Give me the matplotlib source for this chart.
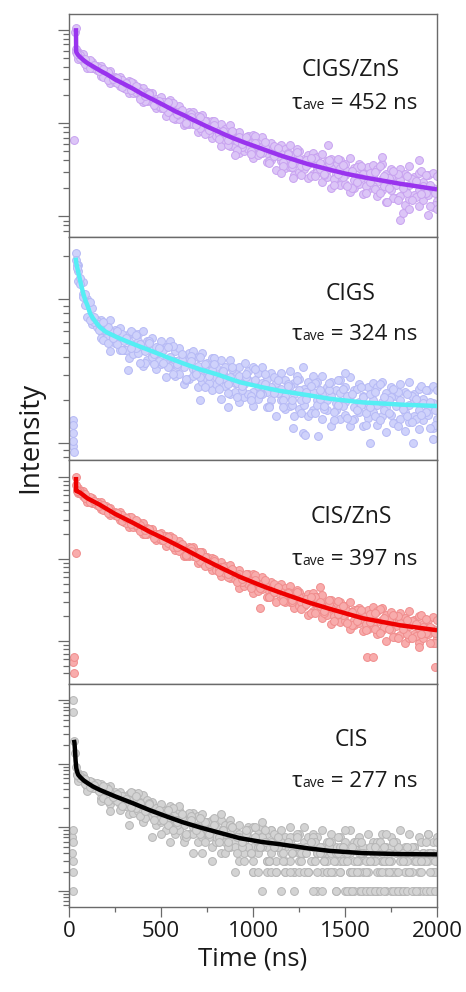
import numpy as np
import matplotlib.pyplot as plt
from matplotlib.ticker import LogLocator, NullFormatter, MultipleLocator

plt.rcParams['font.family'] = ['Open Sans', 'DejaVu Sans']

# time bins of the decay traces (ns)
t_grid = np.arange(50, 2001, 25)
t_half = np.arange(62.5, 2000, 25)
t_tail = np.arange(1000, 2001, 25)
t_tail2 = np.arange(1512.5, 2000, 25)

# ---------------- CIGS/ZnS (log10 counts) ----------------
cigszns_a = [2.76, 2.74, 2.67, 2.66, 2.61, 2.61, 2.56, 2.56, 2.50, 2.50, 2.44, 2.45, 2.43,
             2.39, 2.38, 2.33, 2.32, 2.26, 2.28, 2.23, 2.25, 2.17, 2.18, 2.11, 2.12, 2.12,
             2.08, 2.09, 2.02, 2.02, 1.96, 1.99, 1.94, 1.98, 1.89, 1.91, 1.83, 1.86, 1.87,
             1.82, 1.85, 1.77, 1.79, 1.72, 1.77, 1.72, 1.77, 1.67, 1.70, 1.62, 1.66, 1.68,
             1.64, 1.67, 1.59, 1.62, 1.55, 1.61, 1.56, 1.63, 1.52, 1.56, 1.47, 1.53, 1.55,
             1.51, 1.56, 1.46, 1.51, 1.43, 1.51, 1.45, 1.54, 1.42, 1.47, 1.37, 1.44, 1.47, 1.43]
cigszns_b = [2.73, 2.68, 2.66, 2.62, 2.60, 2.55, 2.53, 2.51, 2.46, 2.46, 2.41, 2.41, 2.36,
             2.36, 2.30, 2.30, 2.24, 2.23, 2.23, 2.16, 2.17, 2.12, 2.12, 2.07, 2.09, 2.03,
             2.03, 1.96, 1.97, 1.96, 1.90, 1.91, 1.86, 1.87, 1.81, 1.85, 1.78, 1.80, 1.72,
             1.74, 1.75, 1.68, 1.70, 1.66, 1.67, 1.61, 1.66, 1.59, 1.62, 1.53, 1.56, 1.58,
             1.51, 1.54, 1.50, 1.52, 1.45, 1.52, 1.44, 1.48, 1.39, 1.43, 1.45, 1.38, 1.42,
             1.37, 1.40, 1.34, 1.42, 1.34, 1.39, 1.28, 1.34, 1.36, 1.28, 1.33, 1.29, 1.31, 1.25]
cigszns_c = [2.69, 2.67, 2.59, 2.59, 2.57, 2.51, 2.50, 2.43, 2.44, 2.40, 2.38, 2.32, 2.32,
             2.31, 2.23, 2.24, 2.23, 2.16, 2.16, 2.08, 2.12, 2.05, 2.05, 1.98, 1.99, 1.99,
             1.91, 1.92, 1.93, 1.84, 1.86, 1.76, 1.82, 1.76, 1.75, 1.68, 1.70, 1.72, 1.63,
             1.66, 1.68, 1.58, 1.61, 1.50, 1.59, 1.52, 1.53, 1.44, 1.48, 1.51, 1.41, 1.45,
             1.48, 1.37, 1.42, 1.31, 1.41, 1.34, 1.35, 1.26, 1.31, 1.35, 1.24, 1.29, 1.33,
             1.22, 1.28, 1.15, 1.28, 1.20, 1.22, 1.12, 1.19, 1.23, 1.11, 1.18, 1.23, 1.10, 1.17]
cigszns_d = [2.73, 2.64, 2.68, 2.59, 2.59, 2.50, 2.55, 2.48, 2.43, 2.46, 2.37, 2.44, 2.34,
             2.34, 2.24, 2.32, 2.24, 2.18, 2.23, 2.12, 2.22, 2.09, 2.12, 1.99, 2.10, 2.01,
             1.95, 2.02, 1.89, 2.02, 1.88, 1.91, 1.77, 1.91, 1.81, 1.75, 1.84, 1.70, 1.86,
             1.70, 1.74, 1.59, 1.76, 1.65, 1.58, 1.68, 1.53, 1.72, 1.54, 1.60, 1.43, 1.63,
             1.51, 1.44, 1.57, 1.40, 1.62, 1.42, 1.49, 1.30, 1.53, 1.41, 1.33, 1.47, 1.29,
             1.54, 1.33, 1.41, 1.20, 1.46, 1.33, 1.25, 1.40, 1.21, 1.49, 1.25, 1.34, 1.12]
cigszns_e = [2.70, 2.69, 2.59, 2.62, 2.56, 2.58, 2.46, 2.47, 2.49, 2.39, 2.43, 2.36, 2.40,
             2.26, 2.29, 2.31, 2.19, 2.24, 2.16, 2.23, 2.06, 2.10, 2.14, 2.00, 2.07, 1.98,
             2.07, 1.88, 1.93, 1.98, 1.83, 1.92, 1.82, 1.92, 1.71, 1.78, 1.85, 1.67, 1.79,
             1.68, 1.80, 1.57, 1.65, 1.73, 1.54, 1.67, 1.56, 1.69, 1.44, 1.54, 1.63, 1.43,
             1.57, 1.46, 1.61, 1.34, 1.45, 1.55, 1.33, 1.49, 1.37, 1.54, 1.25, 1.37, 1.48,
             1.25, 1.43, 1.30, 1.49, 1.18, 1.31, 1.43, 1.18, 1.38, 1.24, 1.44, 1.11, 1.25]
cigszns_extra_t = [30, 34, 36, 38, 40, 44, 900, 1150, 1217, 1408, 1700, 1730, 1800, 1815, 1850, 1900, 1950, 2000]
cigszns_extra_v = [1.82, 2.98, 3.02, 2.80, 2.76, 2.74, 1.66, 1.47, 1.41, 1.77, 1.64, 1.16, 0.96, 1.04, 1.08, 1.60, 1.02, 1.08]
cigszns_fit_t = [38, 39, 42, 50, 60, 80, 100, 130, 168, 210, 250, 300, 348, 400, 440, 490, 533, 580, 620,
                 670, 712, 760, 800, 850, 891, 950, 1000, 1070, 1147, 1220, 1300, 1360, 1418, 1500,
                 1598, 1700, 1800, 1900, 2000]
cigszns_fit_v = [3.02, 2.77, 2.755, 2.73, 2.71, 2.675, 2.645, 2.61, 2.565, 2.52, 2.47, 2.42, 2.37, 2.31,
                 2.27, 2.22, 2.175, 2.125, 2.09, 2.04, 2.00, 1.955, 1.92, 1.875, 1.84, 1.795, 1.76,
                 1.71, 1.655, 1.61, 1.56, 1.53, 1.50, 1.46, 1.42, 1.385, 1.35, 1.32, 1.29]

# ---------------- CIGS ----------------
cigs_a = [2.24, 2.12, 2.00, 1.94, 1.86, 1.86, 1.82, 1.86, 1.79, 1.80, 1.74, 1.76, 1.77,
          1.76, 1.78, 1.71, 1.73, 1.67, 1.71, 1.67, 1.71, 1.64, 1.66, 1.59, 1.63, 1.64,
          1.60, 1.63, 1.56, 1.59, 1.53, 1.58, 1.53, 1.58, 1.50, 1.53, 1.46, 1.50, 1.53,
          1.49, 1.53, 1.45, 1.49, 1.42, 1.49, 1.44, 1.50, 1.42, 1.45, 1.38, 1.43, 1.47,
          1.43, 1.47, 1.39, 1.43, 1.37, 1.44, 1.39, 1.46, 1.37, 1.41, 1.33, 1.39, 1.42,
          1.39, 1.43, 1.35, 1.39, 1.33, 1.41, 1.36, 1.43, 1.34, 1.38, 1.31, 1.37, 1.40, 1.37]
cigs_b = [2.20, 2.04, 1.98, 1.87, 1.85, 1.78, 1.78, 1.78, 1.73, 1.74, 1.71, 1.71, 1.67,
          1.71, 1.65, 1.68, 1.61, 1.63, 1.64, 1.58, 1.60, 1.57, 1.58, 1.53, 1.58, 1.52,
          1.54, 1.47, 1.50, 1.51, 1.46, 1.48, 1.45, 1.46, 1.42, 1.47, 1.41, 1.44, 1.36,
          1.40, 1.42, 1.36, 1.39, 1.36, 1.38, 1.33, 1.40, 1.34, 1.37, 1.30, 1.34, 1.36,
          1.30, 1.34, 1.30, 1.33, 1.28, 1.35, 1.29, 1.33, 1.25, 1.29, 1.32, 1.25, 1.30,
          1.27, 1.29, 1.25, 1.32, 1.26, 1.30, 1.22, 1.27, 1.30, 1.23, 1.28, 1.25, 1.28, 1.23]
cigs_c = [2.13, 2.02, 1.88, 1.83, 1.81, 1.73, 1.73, 1.64, 1.70, 1.65, 1.65, 1.59, 1.62,
          1.63, 1.54, 1.58, 1.60, 1.52, 1.55, 1.46, 1.54, 1.47, 1.48, 1.41, 1.45, 1.47,
          1.39, 1.43, 1.45, 1.37, 1.41, 1.31, 1.40, 1.34, 1.36, 1.29, 1.32, 1.34, 1.26,
          1.31, 1.34, 1.25, 1.30, 1.19, 1.30, 1.24, 1.26, 1.19, 1.24, 1.27, 1.19, 1.23,
          1.27, 1.17, 1.23, 1.12, 1.23, 1.17, 1.20, 1.12, 1.17, 1.22, 1.12, 1.18, 1.22,
          1.13, 1.19, 1.08, 1.20, 1.14, 1.17, 1.09, 1.15, 1.19, 1.10, 1.16, 1.20, 1.11, 1.17]
cigs_d = [2.15, 1.96, 1.98, 1.84, 1.83, 1.72, 1.81, 1.74, 1.69, 1.76, 1.65, 1.78, 1.66,
          1.69, 1.56, 1.71, 1.62, 1.57, 1.65, 1.53, 1.68, 1.54, 1.58, 1.44, 1.61, 1.51,
          1.46, 1.55, 1.42, 1.59, 1.44, 1.49, 1.35, 1.52, 1.42, 1.37, 1.46, 1.33, 1.52,
          1.35, 1.41, 1.26, 1.46, 1.35, 1.30, 1.41, 1.27, 1.47, 1.30, 1.36, 1.21, 1.42,
          1.31, 1.24, 1.37, 1.22, 1.44, 1.26, 1.33, 1.16, 1.38, 1.27, 1.21, 1.34, 1.19,
          1.41, 1.23, 1.30, 1.14, 1.36, 1.25, 1.19, 1.33, 1.17, 1.40, 1.22, 1.29, 1.13]
cigs_e = [2.11, 2.04, 1.86, 1.88, 1.79, 1.84, 1.70, 1.73, 1.78, 1.65, 1.73, 1.66, 1.75,
          1.56, 1.64, 1.70, 1.55, 1.66, 1.56, 1.67, 1.48, 1.55, 1.62, 1.45, 1.57, 1.48,
          1.60, 1.39, 1.47, 1.55, 1.38, 1.50, 1.41, 1.53, 1.32, 1.40, 1.48, 1.30, 1.44,
          1.34, 1.48, 1.25, 1.35, 1.44, 1.25, 1.40, 1.30, 1.44, 1.21, 1.31, 1.40, 1.21,
          1.37, 1.26, 1.42, 1.16, 1.27, 1.38, 1.18, 1.34, 1.23, 1.39, 1.13, 1.25, 1.36,
          1.16, 1.32, 1.21, 1.38, 1.12, 1.24, 1.34, 1.15, 1.31, 1.20, 1.37, 1.11, 1.23]
cigs_extra_t = [21, 22, 22, 23, 24, 25, 37, 39, 42, 45, 320, 712, 864, 957, 1217, 1272, 1272, 1283,
                1353, 1500, 1636, 1870, 1980]
cigs_extra_v = [1.07, 1.16, 0.98, 1.13, 1.02, 0.94, 2.32, 2.27, 2.24, 2.22, 1.51, 1.30, 1.25, 1.56,
                1.11, 1.07, 1.53, 1.06, 1.05, 1.49, 1.00, 1.00, 1.03]
cigs_fit_t = [36, 40, 50, 60, 70, 80, 90, 100, 114, 130, 150, 168, 200, 261, 350, 440, 530, 620,
              710, 804, 929, 1050, 1147, 1300, 1418, 1598, 1800, 2000]
cigs_fit_v = [2.29, 2.25, 2.19, 2.135, 2.08, 2.03, 1.99, 1.96, 1.905, 1.87, 1.835, 1.807, 1.775,
              1.737, 1.69, 1.646, 1.60, 1.556, 1.515, 1.48, 1.425, 1.39, 1.365, 1.335, 1.31,
              1.285, 1.27, 1.26]

# ---------------- CIS/ZnS ----------------
ciszns_a = [2.86, 2.83, 2.76, 2.74, 2.70, 2.69, 2.64, 2.62, 2.57, 2.57, 2.51, 2.51, 2.49,
            2.45, 2.44, 2.38, 2.37, 2.31, 2.32, 2.28, 2.28, 2.22, 2.22, 2.15, 2.15, 2.14,
            2.09, 2.09, 2.02, 2.01, 1.95, 1.96, 1.91, 1.93, 1.85, 1.87, 1.79, 1.82, 1.81,
            1.77, 1.78, 1.71, 1.72, 1.65, 1.69, 1.64, 1.67, 1.59, 1.60, 1.53, 1.57, 1.58,
            1.54, 1.56, 1.48, 1.50, 1.43, 1.48, 1.42, 1.47, 1.38, 1.40, 1.32, 1.38, 1.41,
            1.36, 1.40, 1.31, 1.35, 1.27, 1.34, 1.28, 1.36, 1.25, 1.30, 1.20, 1.26, 1.29, 1.25]
ciszns_b = [2.83, 2.78, 2.75, 2.71, 2.69, 2.64, 2.62, 2.59, 2.54, 2.53, 2.48, 2.47, 2.43,
            2.43, 2.37, 2.36, 2.30, 2.29, 2.28, 2.23, 2.22, 2.17, 2.16, 2.11, 2.12, 2.06,
            2.05, 1.98, 1.98, 1.96, 1.90, 1.90, 1.86, 1.85, 1.79, 1.82, 1.75, 1.76, 1.68,
            1.69, 1.69, 1.63, 1.64, 1.60, 1.60, 1.55, 1.58, 1.52, 1.53, 1.45, 1.47, 1.48,
            1.41, 1.43, 1.39, 1.40, 1.34, 1.40, 1.33, 1.35, 1.26, 1.29, 1.30, 1.23, 1.27,
            1.23, 1.25, 1.19, 1.26, 1.18, 1.22, 1.13, 1.18, 1.20, 1.13, 1.17, 1.13, 1.15, 1.10]
ciszns_c = [2.80, 2.77, 2.70, 2.68, 2.66, 2.61, 2.60, 2.53, 2.53, 2.47, 2.45, 2.39, 2.39,
            2.38, 2.31, 2.31, 2.30, 2.23, 2.23, 2.16, 2.18, 2.11, 2.10, 2.03, 2.03, 2.03,
            1.95, 1.95, 1.94, 1.87, 1.87, 1.79, 1.83, 1.77, 1.75, 1.65, 1.67, 1.69, 1.59,
            1.61, 1.63, 1.54, 1.56, 1.47, 1.54, 1.47, 1.47, 1.40, 1.42, 1.42, 1.32, 1.36,
            1.38, 1.28, 1.32, 1.21, 1.30, 1.23, 1.24, 1.15, 1.19, 1.22, 1.12, 1.15, 1.19,
            1.08, 1.13, 1.00, 1.13, 1.05, 1.07, 0.98, 1.04, 1.08, 0.97, 1.03, 1.08, 0.97, 1.03]
ciszns_d = [2.83, 2.74, 2.76, 2.68, 2.67, 2.60, 2.62, 2.56, 2.52, 2.53, 2.44, 2.51, 2.41,
            2.41, 2.31, 2.37, 2.30, 2.25, 2.28, 2.19, 2.25, 2.14, 2.16, 2.04, 2.13, 2.04,
            1.98, 2.02, 1.91, 2.00, 1.88, 1.89, 1.78, 1.87, 1.79, 1.72, 1.79, 1.66, 1.80,
            1.65, 1.68, 1.54, 1.69, 1.59, 1.53, 1.60, 1.47, 1.62, 1.47, 1.51, 1.34, 1.53,
            1.42, 1.34, 1.45, 1.30, 1.49, 1.31, 1.36, 1.19, 1.38, 1.27, 1.20, 1.33, 1.15,
            1.39, 1.17, 1.25, 1.05, 1.30, 1.17, 1.09, 1.24, 1.06, 1.31, 1.10, 1.17, 0.98]
ciszns_e = [2.80, 2.79, 2.69, 2.71, 2.65, 2.66, 2.56, 2.56, 2.56, 2.46, 2.50, 2.43, 2.47,
            2.34, 2.35, 2.37, 2.26, 2.30, 2.23, 2.27, 2.14, 2.15, 2.18, 2.05, 2.10, 2.02,
            2.08, 1.91, 1.94, 1.97, 1.84, 1.90, 1.82, 1.88, 1.72, 1.75, 1.81, 1.64, 1.74,
            1.64, 1.74, 1.53, 1.60, 1.66, 1.49, 1.59, 1.50, 1.60, 1.39, 1.45, 1.53, 1.34,
            1.47, 1.36, 1.50, 1.24, 1.33, 1.42, 1.22, 1.35, 1.24, 1.38, 1.13, 1.23, 1.34,
            1.10, 1.28, 1.15, 1.32, 1.03, 1.15, 1.26, 1.03, 1.21, 1.09, 1.27, 0.97, 1.10]
ciszns_extra_t = [22, 27, 30, 38, 38, 39, 41, 45, 1038, 1364, 1620, 1652, 1900, 1990]
ciszns_extra_v = [0.74, 0.61, 0.80, 2.07, 3.00, 2.90, 2.84, 2.83, 1.40, 1.66, 0.80, 0.80, 0.92, 0.68]
ciszns_fit_t = [38, 39, 45, 60, 100, 168, 250, 348, 440, 533, 620, 712, 800, 929, 1050, 1147,
                1300, 1418, 1598, 1800, 2000]
ciszns_fit_v = [3.00, 2.83, 2.825, 2.81, 2.74, 2.66, 2.55, 2.44, 2.33, 2.23, 2.13, 2.02, 1.92,
                1.78, 1.67, 1.59, 1.47, 1.39, 1.275, 1.19, 1.13]

# ---------------- CIS (raw photon counts) ----------------
cis_a = [73, 66, 54, 51, 44, 49, 42, 45, 36, 36, 29, 34, 35,
         30, 32, 24, 25, 20, 23, 19, 22, 17, 19, 14, 16, 17,
         15, 16, 12, 13, 10, 13, 11, 13, 9, 11, 8, 10, 10,
         9, 10, 8, 9, 7, 9, 7, 10, 7, 8, 6, 7, 8,
         7, 9, 6, 8, 5, 7, 6, 9, 5, 7, 5, 8, 6,
         6, 8, 5, 7, 5, 9, 5, 8, 5, 7, 4, 8, 6, 7]
cis_b = [66, 55, 52, 45, 43, 35, 36, 35, 29, 30, 26, 27, 22,
         25, 20, 21, 16, 17, 17, 14, 14, 13, 13, 11, 13, 10,
         11, 8, 9, 10, 8, 8, 8, 8, 6, 8, 6, 7, 5,
         6, 7, 5, 6, 5, 6, 5, 6, 5, 5, 4, 5, 5,
         4, 5, 4, 4, 4, 5, 4, 4, 3, 4, 4, 3, 4,
         4, 4, 3, 5, 4, 4, 3, 4, 4, 3, 4, 4, 4, 3]
cis_c = [59, 53, 43, 42, 40, 29, 30, 23, 27, 23, 22, 16, 17,
         18, 13, 15, 15, 11, 12, 9, 11, 8, 9, 7, 8, 8,
         6, 7, 8, 5, 6, 4, 6, 5, 5, 3, 4, 5, 3,
         4, 5, 3, 4, 3, 4, 3, 3, 2, 3, 4, 2, 3,
         4, 2, 3, 2, 3, 2, 3, 2, 2, 3, 2, 3, 3,
         2, 3, 2, 3, 2, 3, 2, 2, 3, 2, 3, 3, 2, 3]
cis_d = [53, 61, 38, 44, 50, 26, 44, 18, 31, 19, 31, 11, 21,
         35, 12, 27, 7, 17, 8, 18, 6, 11, 22, 6, 17, 4,
         10, 4, 12, 3, 7, 16, 4, 11, 2, 7, 3, 9, 2,
         5, 12, 3, 9, 2, 5, 2, 7, 2, 4, 10, 2, 7,
         1, 4, 2, 6, 1, 3, 9, 2, 6, 1, 4, 2, 5,
         1, 3, 8, 2, 6, 1, 4, 2, 5, 1, 3, 8, 2, 6]
cis_f = [64, 49, 54, 42, 41, 29, 40, 31, 26, 31, 22, 36, 20,
         24, 14, 24, 17, 13, 18, 11, 20, 11, 14, 7, 15, 10,
         8, 12, 7, 14, 7, 9, 5, 10, 7, 5, 8, 4, 10,
         5, 6, 3, 8, 5, 4, 6, 4, 8, 4, 5, 3, 6,
         4, 3, 5, 3, 7, 3, 4, 2, 6, 4, 3, 5, 3,
         6, 3, 4, 2, 5, 4, 3, 5, 3, 6, 3, 4, 2]
cis_g = [59, 57, 43, 46, 38, 45, 26, 30, 34, 22, 28, 21, 31,
         15, 18, 23, 13, 19, 13, 19, 9, 12, 16, 8, 13, 9,
         14, 6, 8, 11, 6, 9, 6, 10, 4, 6, 9, 4, 7,
         5, 9, 3, 5, 7, 3, 6, 4, 7, 3, 4, 6, 3,
         5, 3, 6, 2, 4, 5, 3, 5, 3, 6, 2, 3, 5,
         2, 5, 3, 6, 2, 3, 5, 2, 4, 3, 6, 2, 3]
cis_tail = [2, 2, 1, 2, 2, 2, 1, 2, 2, 1, 2, 2, 2, 1, 2, 1, 2, 2, 1, 2,
            1, 1, 1, 2, 1, 1, 1, 1, 2, 1, 1, 1, 1, 1, 2, 1, 1, 1, 1, 1, 1]
cis_tail2 = [1, 1, 2, 1, 1, 1, 1, 1, 1, 2, 1, 1, 1, 1, 1, 1, 2, 1, 1, 1]
cis_extra_t = [18, 19, 20, 20, 20, 21, 22, 22, 24, 28, 32, 36, 42, 46]
cis_extra_v = [7, 4, 9, 3, 1, 6, 2, 1000, 650, 230, 150, 90, 70, 68]
cis_fit_t = [27, 30, 33, 36, 40, 45, 50, 60, 80, 100, 130, 168, 250, 348, 440, 533, 620, 712,
             800, 929, 1050, 1147, 1300, 1418, 1598, 1800, 2000]
cis_fit_v = [2.38, 2.33, 2.20, 2.05, 1.93, 1.87, 1.83, 1.795, 1.74, 1.70, 1.645, 1.59, 1.49,
             1.38, 1.27, 1.17, 1.08, 1.00, 0.93, 0.83, 0.77, 0.735, 0.67, 0.63, 0.595, 0.58, 0.575]

labels = ["CIGS/ZnS", "CIGS", "CIS/ZnS", "CIS"]
tau_values = [452, 324, 397, 277]
log_limits = [(0.779, 3.175), (0.883, 2.433), (0.478, 3.203), (-0.253, 3.264)]
tau_y = [0.572, 0.541, 0.533, 0.538]

point_face = ["#dcc5f7", "#cfd2fb", "#f8acac", "#d3d3d3"]
point_edge = ["#c8a2f0", "#b5b9f5", "#f08c8c", "#b6b6b6"]
fit_color = ["#9933ee", "#55eef4", "#ee0000", "#000000"]

SPINE = "#6a6a6a"
TEXT = "#1a1a1a"


def draw_panel(ax, i, series, extra_t, extra_v, fit_t, fit_v):
    for tt, vv in series + [(extra_t, extra_v)]:
        ax.scatter(tt, vv, s=32, facecolor=point_face[i], edgecolor=point_edge[i],
                   linewidth=0.7, zorder=2)
    ax.plot(fit_t, fit_v, color=fit_color[i], lw=3.2, zorder=3, solid_capstyle='butt')

    ax.set_yscale('log')
    lo, hi = log_limits[i]
    ax.set_ylim(10 ** lo, 10 ** hi)
    ax.set_xlim(0, 2000)
    ax.yaxis.set_major_locator(LogLocator(base=10, numticks=20))
    ax.yaxis.set_minor_locator(LogLocator(base=10, subs=np.arange(2, 10), numticks=20))
    ax.yaxis.set_major_formatter(NullFormatter())
    ax.yaxis.set_minor_formatter(NullFormatter())
    ax.tick_params(axis='y', which='major', length=8, width=0.9, color=SPINE, direction='out')
    ax.tick_params(axis='y', which='minor', length=4.3, width=0.9, color=SPINE, direction='out')
    for sp in ax.spines.values():
        sp.set_color(SPINE)
        sp.set_linewidth(1.0)

    ax.text(0.766, 0.72, labels[i], transform=ax.transAxes, ha='center', va='baseline',
            fontsize=16.5, color=TEXT)


fig, axes = plt.subplots(4, 1, figsize=(4.66, 9.92), dpi=100, sharex=True)
fig.subplots_adjust(left=0.148, right=0.938, top=0.9862, bottom=0.0857, hspace=0)

lin = lambda v: 10 ** np.array(v)

draw_panel(axes[0], 0,
           [(t_grid, lin(cigszns_a)), (t_grid, lin(cigszns_b)), (t_grid, lin(cigszns_c)),
            (t_half, lin(cigszns_d)), (t_half, lin(cigszns_e))],
           cigszns_extra_t, lin(cigszns_extra_v), cigszns_fit_t, lin(cigszns_fit_v))
draw_panel(axes[1], 1,
           [(t_grid, lin(cigs_a)), (t_grid, lin(cigs_b)), (t_grid, lin(cigs_c)),
            (t_half, lin(cigs_d)), (t_half, lin(cigs_e))],
           cigs_extra_t, lin(cigs_extra_v), cigs_fit_t, lin(cigs_fit_v))
draw_panel(axes[2], 2,
           [(t_grid, lin(ciszns_a)), (t_grid, lin(ciszns_b)), (t_grid, lin(ciszns_c)),
            (t_half, lin(ciszns_d)), (t_half, lin(ciszns_e))],
           ciszns_extra_t, lin(ciszns_extra_v), ciszns_fit_t, lin(ciszns_fit_v))
draw_panel(axes[3], 3,
           [(t_grid, cis_a), (t_grid, cis_b), (t_grid, cis_c), (t_grid, cis_d),
            (t_half, cis_f), (t_half, cis_g), (t_tail, cis_tail), (t_tail2, cis_tail2)],
           cis_extra_t, cis_extra_v, cis_fit_t, lin(cis_fit_v))

for ax in axes[:3]:
    ax.tick_params(axis='x', which='both', bottom=False, labelbottom=False)

ax = axes[3]
ax.xaxis.set_major_locator(MultipleLocator(500))
ax.xaxis.set_minor_locator(MultipleLocator(250))
ax.tick_params(axis='x', which='major', length=7, width=0.9, color=SPINE, labelsize=16,
               labelcolor=TEXT, pad=3)
ax.tick_params(axis='x', which='minor', length=3.6, width=0.9, color=SPINE)
ax.set_xlabel("Time (ns)", fontsize=18.5, color=TEXT, labelpad=3)

fig.text(0.064, 1 - 437 / 992, "Intensity", rotation=90, ha='center', va='center',
         fontsize=20, color=TEXT)

# tau_ave lines: small "ave" sitting on the same baseline as the rest
fig.canvas.draw()
renderer = fig.canvas.get_renderer()
for i, ax in enumerate(axes):
    inv = ax.transAxes.inverted()
    x = 0.605
    for piece, fs in [("τ", 16), ("ave", 10), (f" = {tau_values[i]} ns", 16)]:
        t = ax.text(x, tau_y[i], piece, transform=ax.transAxes, ha='left', va='baseline',
                    fontsize=fs, color=TEXT)
        bb = t.get_window_extent(renderer)
        x = inv.transform((bb.x1, bb.y0))[0]

fig.savefig("out.png", dpi=100)
